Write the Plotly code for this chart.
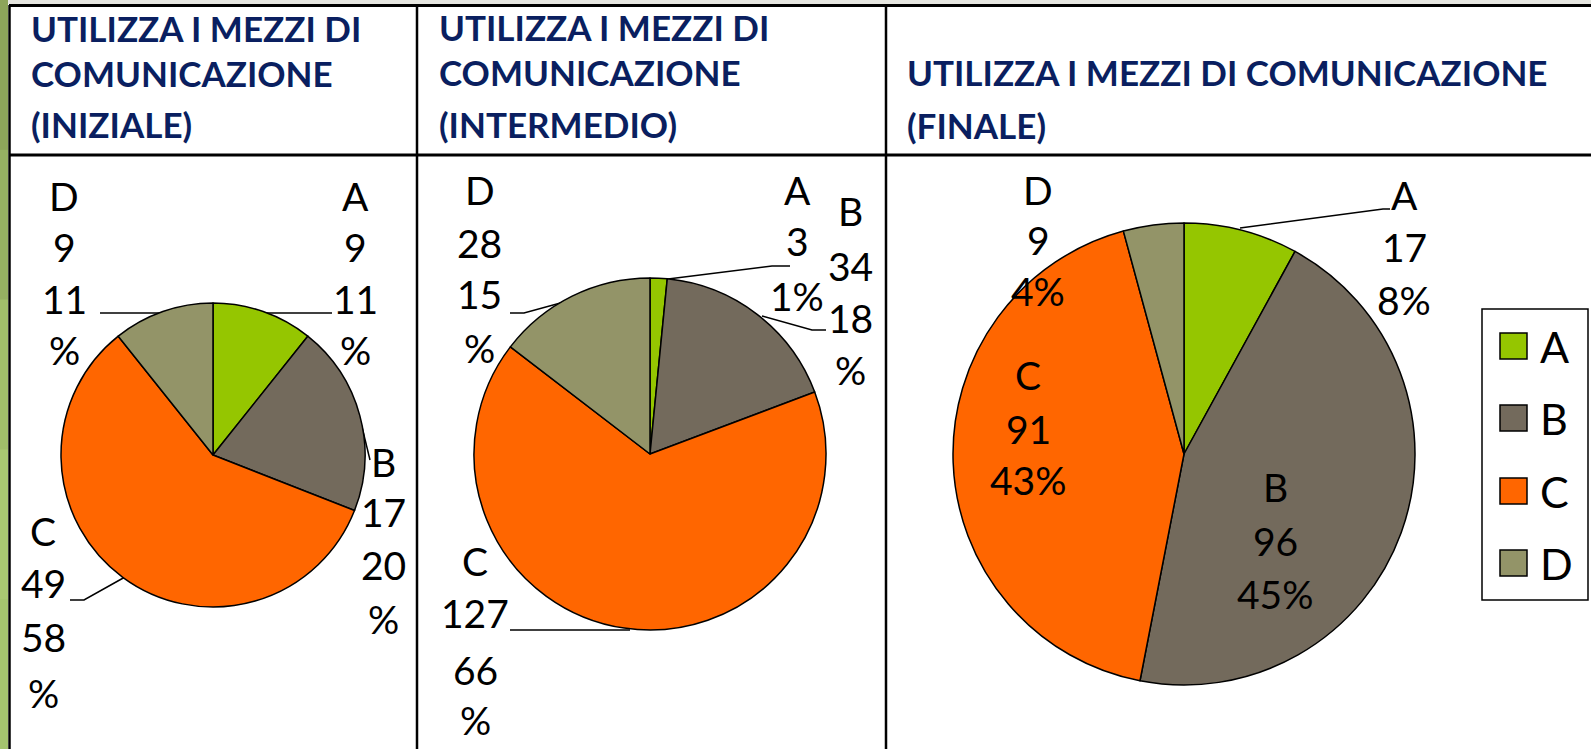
import plotly.graph_objects as go

W, H = 1591, 749

# ---------------- data ----------------
categories = ["A", "B", "C", "D"]
values_iniziale = [9, 17, 49, 9]
values_intermedio = [3, 34, 127, 28]
values_finale = [17, 96, 91, 9]
pct_iniziale = [11, 20, 58, 11]
pct_intermedio = [1, 18, 66, 15]
pct_finale = [8, 45, 43, 4]
colors = ["#95C600", "#736A5C", "#FF6600", "#939468"]
title_lines = [
    ["UTILIZZA I MEZZI DI", "COMUNICAZIONE", "(INIZIALE)"],
    ["UTILIZZA I MEZZI DI", "COMUNICAZIONE", "(INTERMEDIO)"],
    ["UTILIZZA I MEZZI DI COMUNICAZIONE", "(FINALE)"],
]

def px(x):
    return x / W

def py(y):
    return 1 - y / H

def dom(cx, cy, r):
    return dict(x=[px(cx - r), px(cx + r)], y=[py(cy + r), py(cy - r)])

fig = go.Figure()
pies = [
    (values_iniziale, dom(213, 455, 152)),
    (values_intermedio, dom(650, 454, 176)),
    (values_finale, dom(1184, 454, 231)),
]
for vals, d in pies:
    fig.add_trace(go.Pie(
        labels=categories, values=vals, sort=False, direction="clockwise",
        rotation=0, domain=d, textinfo="none", hoverinfo="label+value+percent",
        marker=dict(colors=colors, line=dict(color="black", width=1.5)),
        showlegend=False,
    ))

annotations = []
shapes = []

FONT = "Lato, 'Noto Sans', sans-serif"
LBL = dict(family=FONT, size=39, color="black")
LEG = dict(family=FONT, size=43, color="black")

def label_lines(cat, val, pct, split):
    if split and pct >= 10:
        return [cat, str(val), str(pct), "%"]
    return [cat, str(val), f"{pct}%"]

# label anchor positions (pixels): x center, list of line y centers
label_pos = [
    {"A": (355, [196, 247, 299, 350]), "B": (383, [462, 512, 565, 619]),
     "C": (43, [531, 583, 637, 693]), "D": (64, [196, 247, 299, 350])},
    {"A": (797, [190, 241, 296]), "B": (850, [211, 266, 318, 370]),
     "C": (475, [561, 613, 670, 720]), "D": (480, [190, 243, 294, 348])},
    {"A": (1404, [195, 247, 300]), "B": (1275, [487, 541, 594]),
     "C": (1028, [375, 429, 480]), "D": (1038, [190, 240, 291])},
]
splits = [True, True, False]
all_vals = [values_iniziale, values_intermedio, values_finale]
all_pcts = [pct_iniziale, pct_intermedio, pct_finale]
for k in range(3):
    for i, cat in enumerate(categories):
        lines = label_lines(cat, all_vals[k][i], all_pcts[k][i], splits[k])
        x, ys = label_pos[k][cat]
        for t, y in zip(lines, ys):
            annotations.append(dict(text=t, x=px(x), y=py(y), xref="paper", yref="paper",
                                    showarrow=False, xanchor="center", yanchor="middle",
                                    font=LBL))

# leader lines
leaders = [
    [(100, 313), (175, 313)],
    [(262, 313), (332, 313)],
    [(362, 427), (370, 460)],
    [(70, 600), (84, 600), (125, 577)],
    [(510, 313), (524, 313), (575, 299)],
    [(660, 280), (772, 266), (790, 266)],
    [(762, 316), (812, 330), (826, 330)],
    [(510, 630), (630, 630)],
    [(1240, 228), (1383, 209), (1390, 209)],
]
for pts in leaders:
    path = "M " + " L ".join(f"{px(x)},{py(y)}" for x, y in pts)
    shapes.append(dict(type="path", path=path, xref="paper", yref="paper",
                       line=dict(color="black", width=1.5), layer="below"))

# titles
TITLE = dict(family=FONT, size=35, color="#0A1F60", weight="bold")
title_x = [29, 437, 905]
title_y = [[28, 73, 124], [27, 72, 124], [72, 125]]
for k in range(3):
    for t, y in zip(title_lines[k], title_y[k]):
        annotations.append(dict(text=t, x=px(title_x[k]), y=py(y), xref="paper", yref="paper",
                                showarrow=False, xanchor="left", yanchor="middle", font=TITLE))

# background decorations: slide strips and table grid
def rect(x0, y0, x1, y1, fill, lw=0, lc="black", layer="below"):
    shapes.append(dict(type="rect", xref="paper", yref="paper",
                       x0=px(x0), x1=px(x1), y0=py(y1), y1=py(y0),
                       fillcolor=fill, line=dict(width=lw, color=lc), layer=layer))

def line(x0, y0, x1, y1, w=2.5, c="black"):
    shapes.append(dict(type="line", xref="paper", yref="paper",
                       x0=px(x0), x1=px(x1), y0=py(y0), y1=py(y1),
                       line=dict(color=c, width=w), layer="below"))

rect(0, 0, W, 4, "#E6E6E0")
greens = ["#8DA55A", "#95B062", "#A0BE6A", "#A9C872", "#A4C46E"]
seg = H / len(greens)
for i, g in enumerate(greens):
    rect(0, i * seg, 8, (i + 1) * seg + 1, g)
line(9, 5.5, W, 5.5, 3)
line(9.5, 5, 9.5, H, 2.5)
line(9, 155, W, 155, 3)
line(417, 5, 417, H, 2.5)
line(886, 5, 886, H, 2.5)

# custom legend
rect(1482, 309, 1588, 600, "white", 1.5)
leg_y = [346, 418, 491, 563]
for c, cat, y in zip(colors, categories, leg_y):
    rect(1500, y - 13, 1527, y + 13, c, 1.5, layer="above")
    annotations.append(dict(text=cat, x=px(1538), y=py(y), xref="paper", yref="paper",
                            showarrow=False, xanchor="left", yanchor="middle", font=LEG))

fig.update_layout(
    width=W, height=H, margin=dict(l=0, r=0, t=0, b=0),
    paper_bgcolor="white", plot_bgcolor="white",
    annotations=annotations, shapes=shapes, showlegend=False,
)
fig.write_html("out.html", config={"displayModeBar": False},
               post_script="document.body.style.margin='0px';")
